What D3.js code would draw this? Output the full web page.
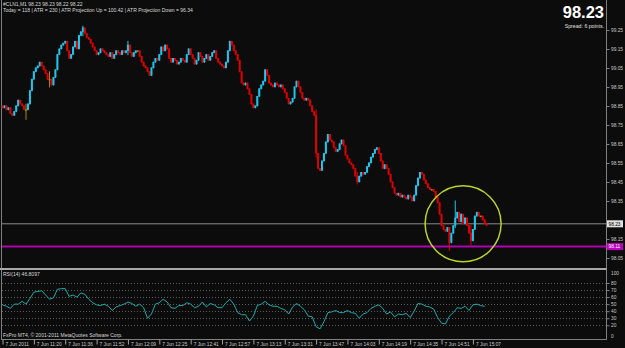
<!DOCTYPE html>
<html lang="en">
<head>
<meta charset="UTF-8">
<title>#CLN1,M1</title>
<script src="https://d3js.org/d3.v7.min.js"></script>
<style>
  body { margin: 0; background: #0c0c0c; }
  svg { display: block; font-family: "Liberation Sans", Arial, sans-serif; }
</style>
</head>
<body>
<svg width="625" height="348"></svg>
<script>
// M1 closes, one per bar (open = previous close)
const firstOpen = 98.85;
const closes = [
  98.84, 98.85, 98.83, 98.84, 98.81, 98.80, 98.82, 98.85, 98.88, 98.86, 98.85, 98.83, 98.83, 98.86, 98.93, 98.99,
  99.03, 99.05, 99.06, 99.08, 99.06, 99.04, 99.02, 98.99, 98.99, 98.96, 99.00, 99.04, 99.12, 99.15, 99.17, 99.18,
  99.19, 99.14, 99.10, 99.12, 99.16, 99.19, 99.15, 99.22, 99.24, 99.26, 99.23, 99.21, 99.20, 99.18, 99.16, 99.14,
  99.12, 99.13, 99.15, 99.14, 99.13, 99.12, 99.11, 99.13, 99.10, 99.12, 99.14, 99.13, 99.12, 99.14, 99.13, 99.14,
  99.17, 99.13, 99.11, 99.13, 99.14, 99.14, 99.11, 99.08, 99.06, 99.05, 99.03, 99.01, 99.05, 99.08, 99.10, 99.09,
  99.12, 99.16, 99.14, 99.17, 99.15, 99.10, 99.08, 99.10, 99.09, 99.07, 99.08, 99.10, 99.09, 99.08, 99.12, 99.15,
  99.12, 99.10, 99.07, 99.09, 99.13, 99.11, 99.08, 99.10, 99.12, 99.09, 99.11, 99.13, 99.14, 99.10, 99.08, 99.07,
  99.06, 99.05, 99.08, 99.14, 99.19, 99.17, 99.14, 99.12, 99.09, 99.03, 98.97, 98.96, 98.97, 98.94, 98.91, 98.86,
  98.84, 98.85, 98.90, 98.94, 98.96, 98.98, 99.04, 99.01, 98.97, 98.96, 98.95, 98.97, 98.96, 98.95, 98.96, 98.94,
  98.92, 98.89, 98.86, 98.87, 98.89, 98.95, 98.98, 98.95, 98.92, 98.89, 98.88, 98.89, 98.88, 98.85, 98.82, 98.80,
  98.60, 98.52, 98.51, 98.56, 98.60, 98.66, 98.70, 98.67, 98.66, 98.63, 98.61, 98.62, 98.65, 98.67, 98.64, 98.59,
  98.57, 98.55, 98.54, 98.52, 98.48, 98.45, 98.48, 98.50, 98.49, 98.50, 98.53, 98.55, 98.58, 98.60, 98.62, 98.63,
  98.60, 98.56, 98.52, 98.54, 98.52, 98.49, 98.45, 98.42, 98.39, 98.38, 98.39, 98.37, 98.38, 98.37, 98.36, 98.38,
  98.37, 98.35, 98.38, 98.43, 98.47, 98.50, 98.49, 98.46, 98.44, 98.42, 98.41, 98.41, 98.40, 98.37, 98.34, 98.28,
  98.22, 98.20, 98.19, 98.21, 98.13, 98.18, 98.22, 98.26, 98.29, 98.24, 98.28, 98.23, 98.26, 98.22, 98.18, 98.14,
  98.20, 98.27, 98.29, 98.27, 98.27, 98.25, 98.23, 98.22
];
// visible wicks: [bar, high, low]
const wicks = [
  [12, 98.86, 98.78], [24, 99.03, 98.95], [41, 99.27, 99.22], [64, 99.19, 99.12],
  [160, 98.83, 98.58], [181, 98.50, 98.44], [228, 98.21, 98.09], [231, 98.35, 98.21],
  [239, 98.22, 98.12], [247, 98.23, 98.22]
];
// RSI(14), one value every 2 bars
const rsiStep = 2;
const rsi = [
  49, 47, 44, 50, 50, 54, 50, 58, 67, 68,
  69, 63, 57, 59, 71, 72, 72, 61, 63, 60,
  66, 64, 57, 52, 49, 48, 50, 47, 41, 46,
  48, 50, 53, 51, 47, 50, 45, 30, 36, 50,
  52, 57, 53, 45, 44, 48, 48, 52, 50, 45,
  47, 53, 46, 51, 49, 45, 45, 52, 57, 50,
  38, 35, 35, 26, 33, 48, 50, 54, 49, 47,
  47, 44, 42, 36, 46, 51, 47, 42, 33, 32,
  18, 15, 25, 38, 39, 41, 38, 38, 41, 38,
  37, 30, 36, 38, 44, 47, 49, 44, 36, 39,
  32, 36, 35, 37, 31, 40, 51, 50, 47, 46,
  43, 31, 23, 22, 33, 38, 45, 44, 47, 41,
  49, 50, 48, 46.8
];
const priceTicks = [99.25, 99.15, 99.05, 98.95, 98.85, 98.75, 98.65, 98.55, 98.45, 98.35, 98.25, 98.15, 98.05];
const rsiLevels = [80, 70, 60, 50, 40, 30, 20];
const rsiTicks = [100, 80, 70, 60, 50, 40, 30, 20, 0];
const timeStep = 16;
const timeLabels = ["7 Jun 2011", "7 Jun 11:20", "7 Jun 11:36", "7 Jun 11:52", "7 Jun 12:09", "7 Jun 12:25",
  "7 Jun 12:41", "7 Jun 12:57", "7 Jun 13:13", "7 Jun 13:31", "7 Jun 13:47", "7 Jun 14:03",
  "7 Jun 14:19", "7 Jun 14:35", "7 Jun 14:51", "7 Jun 15:07"];
const bidPrice = 98.23, levelPrice = 98.11;
const circleBar = 235, circlePrice = 98.23;

const axisX = 606.5, sepY = 269, bottomY = 339.5;
const up = "#1ec6ee", down = "#e00000", flat = "#a8861a";

const svg = d3.select("svg");
svg.append("rect").attr("width", 625).attr("height", 348).attr("fill", "#0c0c0c");

const xScale = d3.scaleLinear().domain([0, 247]).range([2.5, 2.5 + 247 * 1.96]);
const yPrice = d3.scaleLinear().domain([98.05, 99.25]).range([258, 30]);
const yRsi = d3.scaleLinear().domain([0, 100]).range([339.4, 268.9]);

const wickMap = new Map(wicks.map(w => [w[0], w]));
const bars = closes.map((c, i) => {
  const o = i === 0 ? firstOpen : closes[i - 1];
  const w = wickMap.get(i);
  return { i, o, c, h: w ? w[1] : Math.max(o, c), l: w ? w[2] : Math.min(o, c) };
});
const colorOf = d => d.c > d.o ? up : d.c < d.o ? down : flat;

// frame
const frame = svg.append("g").attr("stroke", "#808080").attr("stroke-width", 1);
frame.append("line").attr("x1", 1.5).attr("x2", 1.5).attr("y1", 0).attr("y2", bottomY);
frame.append("line").attr("x1", axisX).attr("x2", axisX).attr("y1", 0).attr("y2", bottomY);
frame.append("line").attr("x1", 1).attr("x2", axisX).attr("y1", bottomY).attr("y2", bottomY);
svg.append("line").attr("x1", 0).attr("x2", axisX).attr("y1", sepY).attr("y2", sepY)
  .attr("stroke", "#a8a8a8").attr("stroke-width", 2);

// level lines
svg.append("line").attr("x1", 2).attr("x2", axisX).attr("y1", yPrice(bidPrice)).attr("y2", yPrice(bidPrice))
  .attr("stroke", "#8a8a8a").attr("stroke-width", 1);
svg.append("line").attr("x1", 2).attr("x2", axisX).attr("y1", yPrice(levelPrice)).attr("y2", yPrice(levelPrice))
  .attr("stroke", "#b000b0").attr("stroke-width", 2);

// candles
const candles = svg.append("g");
candles.selectAll("line").data(bars).join("line")
  .attr("x1", d => xScale(d.i)).attr("x2", d => xScale(d.i))
  .attr("y1", d => yPrice(d.h) - 0.5).attr("y2", d => yPrice(d.l) + 0.5)
  .attr("stroke", colorOf).attr("stroke-width", 1);
candles.selectAll("rect").data(bars).join("rect")
  .attr("x", d => xScale(d.i) - 1).attr("width", 2)
  .attr("y", d => Math.min(yPrice(d.o), yPrice(d.c)) - 0.5)
  .attr("height", d => Math.max(1, Math.abs(yPrice(d.o) - yPrice(d.c))) + 0.5)
  .attr("fill", colorOf);

// annotation circle
svg.append("circle").attr("cx", xScale(circleBar)).attr("cy", yPrice(circlePrice)).attr("r", 38)
  .attr("fill", "none").attr("stroke", "#b6d42a").attr("stroke-width", 1.5);

// price axis
const shownTicks = priceTicks.filter(p => Math.abs(yPrice(p) - yPrice(bidPrice)) > 6 && Math.abs(yPrice(p) - yPrice(levelPrice)) > 6);
const pAxis = svg.append("g").attr("transform", `translate(${axisX},0)`)
  .call(d3.axisRight(yPrice).tickValues(shownTicks).tickSize(3).tickPadding(1.5).tickFormat(d3.format(".2f")));
pAxis.select(".domain").remove();
pAxis.selectAll("line").attr("stroke", "#808080");
pAxis.selectAll("text").attr("fill", "#c8c8c8").attr("font-size", 4.8);

function priceBox(p, bg, fg) {
  const y = yPrice(p);
  svg.append("rect").attr("x", axisX + 0.5).attr("y", y - 3.5).attr("width", 16).attr("height", 7).attr("fill", bg);
  svg.append("text").attr("x", axisX + 2).attr("y", y + 1.8).attr("fill", fg).attr("font-size", 4.8)
    .text(d3.format(".2f")(p));
}
priceBox(bidPrice, "#e0e0e0", "#000");
priceBox(levelPrice, "#c000c0", "#fff");

// RSI pane
svg.append("g").selectAll("line").data(rsiLevels).join("line")
  .attr("x1", 2).attr("x2", axisX - 1).attr("y1", d => Math.round(yRsi(d)) + 0.5).attr("y2", d => Math.round(yRsi(d)) + 0.5)
  .attr("stroke", "#5a5a5a").attr("stroke-dasharray", "1,2");
svg.append("path").datum(rsi)
  .attr("d", d3.line().x((d, k) => xScale(k * rsiStep)).y(d => yRsi(d)))
  .attr("fill", "none").attr("stroke", "#1fa8a8").attr("stroke-width", 1);
const rAxis = svg.append("g").attr("transform", `translate(${axisX},0)`)
  .call(d3.axisRight(yRsi).tickValues(rsiTicks).tickSize(3).tickPadding(1.5));
rAxis.select(".domain").remove();
rAxis.selectAll("line").attr("stroke", "#808080");
rAxis.selectAll("text").attr("fill", "#c8c8c8").attr("font-size", 4.8)
  .attr("y", d => d === 100 ? 3.8 : d === 0 ? -3.4 : 0);
rAxis.selectAll(".tick").filter(d => d === 100 || d === 0).select("line").remove();

// time axis
const tAxis = svg.append("g").attr("transform", `translate(0,${bottomY})`)
  .call(d3.axisBottom(xScale).tickValues(timeLabels.map((t, k) => k * timeStep))
    .tickSize(5).tickFormat((d, k) => timeLabels[k]));
tAxis.select(".domain").remove();
tAxis.selectAll("line").attr("stroke", "#a0a0a0");
tAxis.selectAll("text").attr("fill", "#c8c8c8").attr("font-size", 4.8)
  .attr("text-anchor", "start").attr("x", 2.5).attr("y", 6.3).attr("dy", null);

// texts
const txt = (x, y, s, size, fill, anchor) => svg.append("text").attr("x", x).attr("y", y)
  .attr("font-size", size).attr("fill", fill).attr("text-anchor", anchor || "start").text(s);
txt(3, 6, "#CLN1,M1  98.23 98.23 98.22 98.22", 5, "#d8d8d8");
txt(3, 11.5, "Today = 118   |   ATR = 230   |   ATR Projection Up = 100.42   |   ATR Projection Down = 96.34", 5, "#d8d8d8");
txt(3, 275.5, "RSI(14) 46.8097", 5, "#d8d8d8");
txt(3, 336.5, "FxPro MT4, \u00a9 2001-2011 MetaQuotes Software Corp.", 5, "#d8d8d8");
txt(604, 18, "98.23", 16.5, "#ffffff", "end").attr("font-weight", "bold");
txt(604, 28, "Spread: 6 points.", 5.2, "#e0e0e0", "end");
</script>
</body>
</html>
